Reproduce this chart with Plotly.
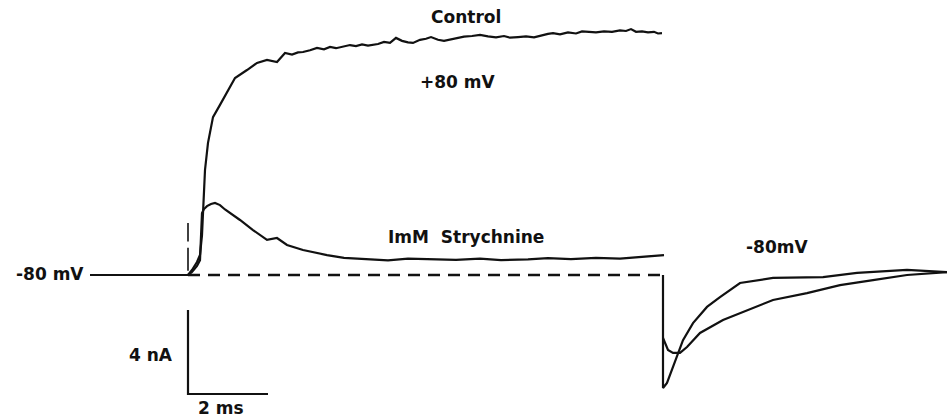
import plotly.graph_objects as go

# time in ms (0 = start of +80 mV step), current in nA (0 = holding level)
hold_t = [-2.45, 0.0]
hold_i = [0.0, 0.0]

control_t = [0.0, 0.1, 0.225, 0.3, 0.35, 0.375, 0.425, 0.5, 0.625, 0.8, 0.975, 1.175, 1.475,
             1.725, 1.975, 2.225, 2.425, 2.6, 2.75, 2.875, 3.05, 3.225, 3.4, 3.55, 3.7, 3.85,
             4.05, 4.2, 4.35, 4.5, 4.75, 4.9, 5.05, 5.2, 5.35, 5.5, 5.625, 5.8, 5.95, 6.075,
             6.25, 6.4, 6.5, 6.7, 6.9, 7.1, 7.3, 7.5, 7.7, 7.9, 8.05, 8.25, 8.45, 8.65, 8.85,
             9.0, 9.125, 9.3, 9.5, 9.7, 9.85, 10.025, 10.2, 10.4, 10.6, 10.8, 10.95, 11.075,
             11.2, 11.35, 11.5, 11.65, 11.75, 11.85]
control_i = [0.0, 0.24, 0.62, 0.95, 1.90, 2.95, 5.0, 6.29, 7.52, 8.10, 8.71, 9.38, 9.76,
             10.10, 10.24, 10.14, 10.57, 10.5, 10.6, 10.62, 10.7, 10.81, 10.75, 10.86, 10.8,
             10.85, 10.95, 10.9, 10.98, 10.92, 11.0, 11.1, 11.05, 11.29, 11.15, 11.08, 11.05,
             11.2, 11.25, 11.33, 11.2, 11.15, 11.19, 11.28, 11.35, 11.38, 11.43, 11.36, 11.32,
             11.38, 11.3, 11.33, 11.36, 11.32, 11.42, 11.48, 11.52, 11.46, 11.55, 11.5, 11.6,
             11.57, 11.55, 11.6, 11.58, 11.65, 11.62, 11.71, 11.58, 11.6, 11.55, 11.58, 11.5,
             11.52]

strych_t = [0.0, 0.1, 0.225, 0.3, 0.35, 0.4, 0.475, 0.575, 0.675, 0.8, 0.925, 1.1, 1.3,
            1.625, 1.975, 2.225, 2.475, 2.875, 3.475, 3.9, 4.325, 5.0, 5.5, 6.075, 6.7, 7.3,
            7.825, 8.5, 9.0, 9.575, 10.2, 10.8, 11.4, 11.9]
strych_i = [0.0, 0.14, 0.43, 0.71, 2.95, 3.14, 3.28, 3.38, 3.43, 3.33, 3.12, 2.9, 2.62,
            2.14, 1.67, 1.76, 1.43, 1.19, 0.95, 0.82, 0.76, 0.70, 0.78, 0.76, 0.72, 0.78,
            0.71, 0.74, 0.80, 0.76, 0.82, 0.78, 0.86, 0.95]

# capacitive artifact at step onset
artifact_t = [0.0, 0.0, None, 0.0, 0.0]
artifact_i = [0.2, 1.3, None, 1.6, 2.48]

control_tail_t = [11.875, 11.875, 11.975, 12.1, 12.225, 12.375, 12.625, 12.975, 13.3, 13.8,
                  14.625, 15.875, 16.725, 17.975, 18.975]
control_tail_i = [0.0, -5.38, -5.14, -4.52, -3.81, -3.10, -2.29, -1.52, -1.05, -0.38,
                  -0.14, -0.10, 0.10, 0.24, 0.14]

strych_tail_t = [11.875, 12.0, 12.125, 12.3, 12.475, 12.8, 13.375, 13.975, 14.625, 15.475,
                 16.3, 17.125, 17.975, 18.975]
strych_tail_i = [-3.0, -3.57, -3.71, -3.71, -3.43, -2.76, -2.14, -1.67, -1.19, -0.86,
                 -0.48, -0.24, 0.0, 0.14]

baseline_t = [0.0, 11.875]
baseline_i = [0.0, 0.0]

# calibration bars: 2 ms, 4 nA
bar_t = [0.0, 0.0, 2.0]
bar_i = [-1.667, -5.667, -5.667]

ink = "#111111"
fig = go.Figure()


def trace(x, y, width=2.2, dash="solid"):
    fig.add_trace(go.Scatter(x=x, y=y, mode="lines", hoverinfo="skip",
                             line=dict(color=ink, width=width, dash=dash)))


trace(hold_t, hold_i)
trace(control_t, control_i)
trace(strych_t, strych_i)
trace(artifact_t, artifact_i, width=1.6)
trace(baseline_t, baseline_i, width=2.4, dash="12px,8px")
trace(control_tail_t, control_tail_i)
trace(strych_tail_t, strych_tail_i)
trace(bar_t, bar_i, width=2.2)

font = dict(family="DejaVu Sans", size=17, color=ink)
labels = [
    ("<b>Control</b>", 6.95, 12.29, "center"),
    ("<b>+80 mV</b>", 6.75, 9.19, "center"),
    ("<b>ImM\u00a0\u00a0Strychnine</b>", 6.95, 1.81, "center"),
    ("<b>-80 mV</b>", -2.55, 0.05, "right"),
    ("<b>-80mV</b>", 14.725, 1.33, "center"),
    ("<b>4 nA</b>", -0.325, -3.81, "right"),
    ("<b>2 ms</b>", 0.825, -6.33, "center"),
]
for text, x, y, anchor in labels:
    fig.add_annotation(x=x, y=y, text=text, showarrow=False, xanchor=anchor,
                       yanchor="middle", font=font)

fig.update_layout(
    width=951, height=418,
    margin=dict(l=0, r=0, t=0, b=0),
    paper_bgcolor="white", plot_bgcolor="white",
    showlegend=False,
    xaxis=dict(range=[-4.7, 19.075], visible=False, fixedrange=True),
    yaxis=dict(range=[-6.8095, 13.0952], visible=False, fixedrange=True),
)

fig.write_html("out.html", config={"displayModeBar": False},
               post_script="document.body.style.margin='0';")
